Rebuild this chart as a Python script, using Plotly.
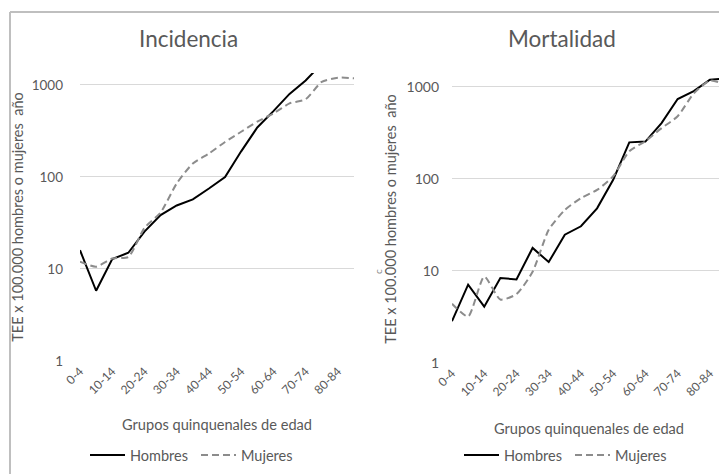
"""
Incidencia y mortalidad por grupos quinquenales de edad (escala log).
"""

import plotly.graph_objects as go

# Grupos de edad
grupos = ["0-4", "5-9", "10-14", "15-19", "20-24", "25-29", "30-34", "35-39",
          "40-44", "45-49", "50-54", "55-59", "60-64", "65-69", "70-74",
          "75-79", "80-84", "85+"]
etiquetas = grupos[::2]

# Tasas x 100.000
inc_hombres = [16, 5.8, 12.8, 15, 25.5, 38.5, 49, 57, 75, 100, 190, 345,
               520, 800, 1120, 1700, 2100, 2300]
inc_mujeres = [12, 10.6, 13, 13.5, 28, 41, 85, 140, 180, 240, 310, 400,
               490, 630, 700, 1080, 1200, 1180]
mort_hombres = [2.85, 7.1, 4.1, 8.4, 8.1, 17.8, 12.5, 24.8, 30.6, 48, 98,
                250, 255, 405, 740, 900, 1200, 1240]
mort_mujeres = [4.4, 3.2, 8.7, 4.9, 5.6, 9.8, 28, 46, 62, 76, 107, 200, 257,
                357, 480, 850, 1170, 1060]

W, H = 727, 474
OFF = 8  # margen del body de la pagina
gris = "#595959"
fuente = "Lato"


def px(x):
    return (x - OFF) / W


def py(y):
    return 1 - (y - OFF) / H


fig = go.Figure()

series = [
    ("x", "y", "legend", inc_hombres, inc_mujeres),
    ("x2", "y2", "legend2", mort_hombres, mort_mujeres),
]
for xa, ya, leg, hom, muj in series:
    fig.add_trace(go.Scatter(
        x=grupos, y=hom, xaxis=xa, yaxis=ya, legend=leg,
        mode="lines", name="Hombres",
        line=dict(color="black", width=2)
    ))
    fig.add_trace(go.Scatter(
        x=grupos, y=muj, xaxis=xa, yaxis=ya, legend=leg,
        mode="lines", name="Mujeres",
        line=dict(color="#8c8c8c", width=2, dash="7px,4px",
                  shape="spline", smoothing=0.6)
    ))

eje_x = dict(
    type="category", categoryorder="array", categoryarray=grupos,
    tickmode="array", tickvals=etiquetas, ticktext=etiquetas,
    tickangle=-45, showgrid=False, showline=False, zeroline=False,
    ticks="", automargin=False,
    tickfont=dict(size=12, color=gris, family=fuente),
)
eje_y = dict(
    type="log", range=[0, 3.13], tickvals=[1, 10, 100, 1000],
    ticktext=["1", "10", "100", "1000"],
    showgrid=True, gridcolor="#d9d9d9", gridwidth=1,
    showline=False, zeroline=False, ticks="", automargin=False,
)
titulo_y = "TEE x 100.000 hombres o mujeres  año"
titulo_x = "Grupos quinquenales de edad"

leyenda = dict(orientation="h", xanchor="left", yanchor="middle",
               entrywidth=61, itemwidth=35,
               font=dict(size=14.5, color=gris, family=fuente))

fig.update_layout(
    width=W, height=H,
    margin=dict(l=0, r=0, t=0, b=0, autoexpand=False),
    paper_bgcolor="white", plot_bgcolor="white",
    font=dict(family=fuente, color=gris),
    xaxis=dict(eje_x, domain=[px(80), px(354)], anchor="y",
               title=dict(text=titulo_x, standoff=23,
                          font=dict(size=14.6, color=gris, family=fuente))),
    yaxis=dict(eje_y, domain=[py(361), py(73)], anchor="x",
               ticklabelstandoff=16,
               tickfont=dict(size=13.5, color=gris, family=fuente),
               title=dict(text=titulo_y, standoff=4,
                          font=dict(size=14.5, color=gris, family=fuente))),
    xaxis2=dict(eje_x, domain=[px(452), px(726)], anchor="y2",
                title=dict(text=titulo_x, standoff=25,
                           font=dict(size=14.6, color=gris, family=fuente))),
    yaxis2=dict(eje_y, domain=[py(363), py(75)], anchor="x2",
                ticklabelstandoff=12,
                tickfont=dict(size=14, color=gris, family=fuente),
                title=dict(text=titulo_y, standoff=6,
                           font=dict(size=14.5, color=gris, family=fuente))),
    legend=dict(leyenda, x=px(85), y=py(455)),
    legend2=dict(leyenda, x=px(459), y=py(455)),
    showlegend=True,
)

# Titulos de cada panel
for texto, xc in [("Incidencia", 188), ("Mortalidad", 562)]:
    fig.add_annotation(text=texto, x=px(xc), y=py(38), xref="paper",
                       yref="paper", showarrow=False,
                       xanchor="center", yanchor="middle",
                       font=dict(size=22.5, color=gris, family=fuente))

# pequeño caracter suelto junto al eje de mortalidad
fig.add_annotation(text="c", x=px(378), y=py(271), xref="paper", yref="paper",
                   showarrow=False, textangle=-90,
                   xanchor="center", yanchor="middle",
                   font=dict(size=10, color="#8c8c8c", family=fuente))

# marco gris (arriba e izquierda)
fig.add_shape(type="line", xref="paper", yref="paper",
              x0=px(10), x1=1, y0=py(12), y1=py(12),
              line=dict(color="#bfbfbf", width=2))
fig.add_shape(type="line", xref="paper", yref="paper",
              x0=px(10), x1=px(10), y0=py(12), y1=0,
              line=dict(color="#bfbfbf", width=2))

fig.write_html("out.html")
